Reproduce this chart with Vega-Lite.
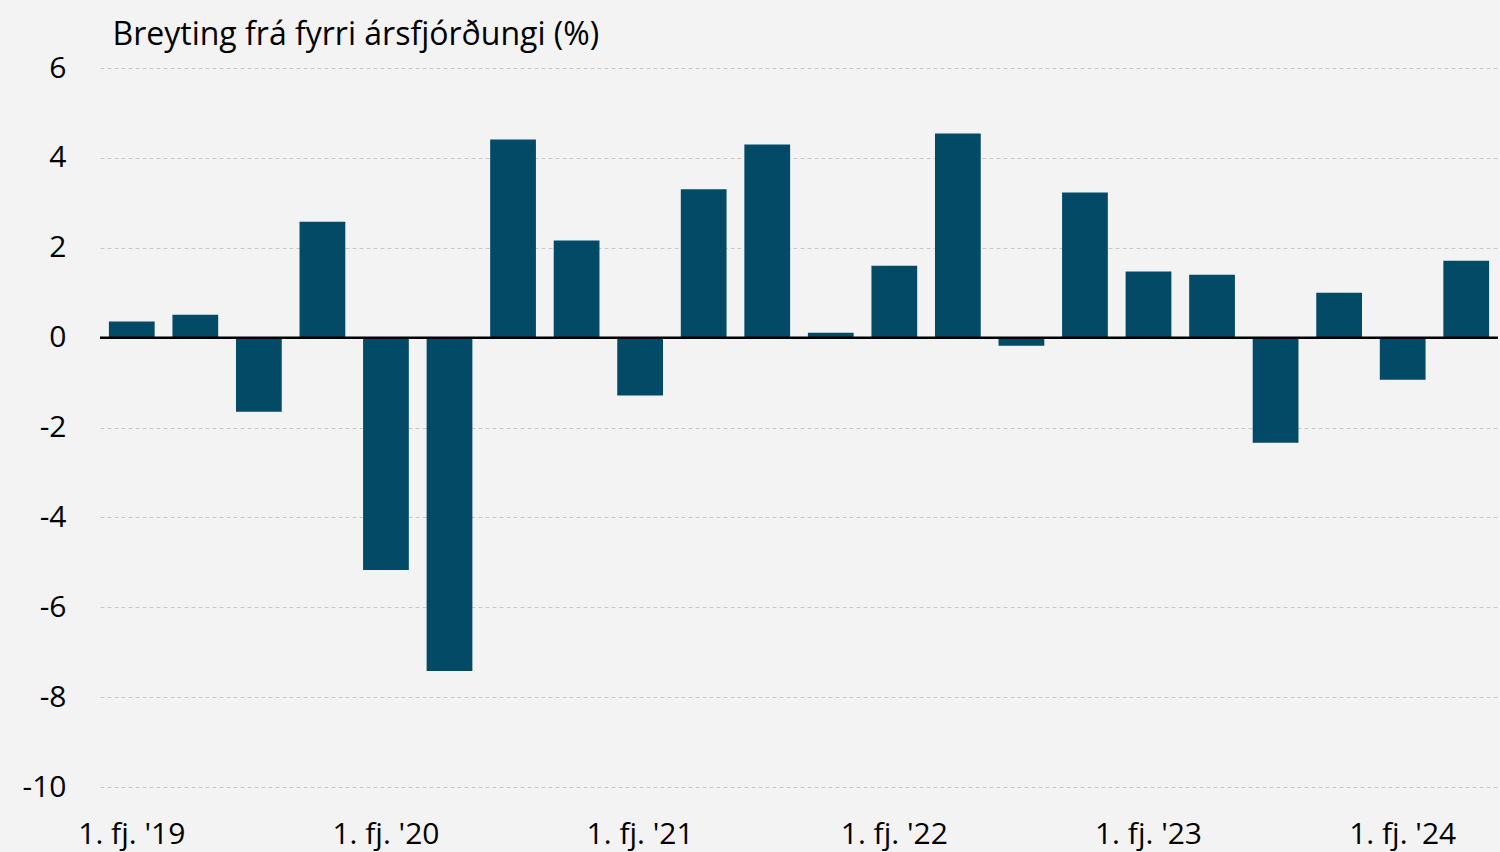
{
  "$schema": "https://vega.github.io/schema/vega-lite/v6.json",
  "autosize": {"type": "none"},
  "padding": {"left": 100, "top": 68, "right": 2, "bottom": 65},
  "width": 1398,
  "height": 719,
  "background": "#f3f3f3",
  "config": {
    "view": {"stroke": null},
    "font": "Open Sans"
  },
  "data": {
    "values": [
      {"q": "1. fj. '19", "v": 0.36},
      {"q": "2. fj. '19", "v": 0.51},
      {"q": "3. fj. '19", "v": -1.65},
      {"q": "4. fj. '19", "v": 2.58},
      {"q": "1. fj. '20", "v": -5.17},
      {"q": "2. fj. '20", "v": -7.42},
      {"q": "3. fj. '20", "v": 4.41},
      {"q": "4. fj. '20", "v": 2.16},
      {"q": "1. fj. '21", "v": -1.29},
      {"q": "2. fj. '21", "v": 3.30},
      {"q": "3. fj. '21", "v": 4.30},
      {"q": "4. fj. '21", "v": 0.11},
      {"q": "1. fj. '22", "v": 1.60},
      {"q": "2. fj. '22", "v": 4.54},
      {"q": "3. fj. '22", "v": -0.18},
      {"q": "4. fj. '22", "v": 3.23},
      {"q": "1. fj. '23", "v": 1.47},
      {"q": "2. fj. '23", "v": 1.40},
      {"q": "3. fj. '23", "v": -2.34},
      {"q": "4. fj. '23", "v": 1.00},
      {"q": "1. fj. '24", "v": -0.94},
      {"q": "2. fj. '24", "v": 1.71}
    ]
  },
  "layer": [
    {
      "mark": {"type": "bar", "color": "#024a65"},
      "encoding": {
        "x": {
          "field": "q", "type": "ordinal", "sort": null,
          "scale": {"paddingInner": 0.28, "paddingOuter": 0.14},
          "axis": {
            "title": null, "labelAngle": 0, "domain": false, "ticks": false,
            "labelExpr": "indexof(datum.value, '1. fj.') === 0 ? datum.value : ''",
            "labelFontSize": 30, "labelColor": "#000000", "labelPadding": 32,
            "labelOverlap": false
          }
        },
        "y": {
          "field": "v", "type": "quantitative",
          "scale": {"domain": [-10, 6], "nice": false},
          "axis": {
            "values": [-10, -8, -6, -4, -2, 0, 2, 4, 6],
            "labelExpr": "'' + datum.value",
            "title": "Breyting frá fyrri ársfjórðungi (%)",
            "titleAngle": 0, "titleAlign": "left", "titleBaseline": "alphabetic",
            "titleX": 12, "titleY": -24, "titleFontSize": 32, "titleFontWeight": "normal",
            "titleColor": "#000000",
            "domain": false, "ticks": false,
            "labelFontSize": 30, "labelColor": "#000000", "labelPadding": 34,
            "grid": true, "gridColor": "#c8c8c8", "gridDash": [4, 3], "gridWidth": 1
          }
        }
      }
    },
    {
      "data": {"values": [{"z": 0}]},
      "mark": {"type": "rule", "color": "#000000", "strokeWidth": 2.5},
      "encoding": {"y": {"field": "z", "type": "quantitative"}}
    }
  ]
}
